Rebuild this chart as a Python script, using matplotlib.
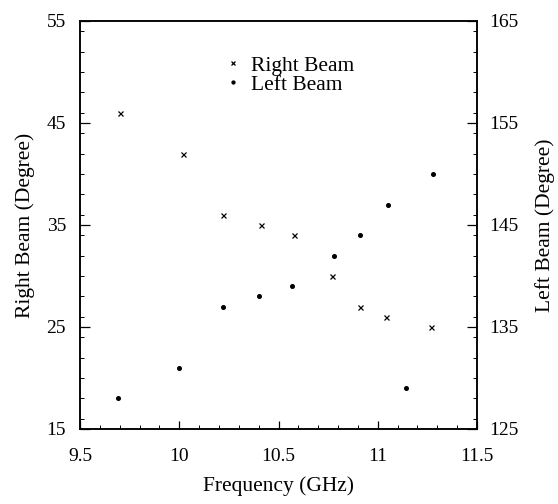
import matplotlib
matplotlib.use("Agg")
import matplotlib.pyplot as plt
from matplotlib.ticker import MultipleLocator

# Data
right_freq = [9.70, 10.02, 10.22, 10.41, 10.58, 10.77, 10.91, 11.04, 11.27]
right_beam = [46, 42, 36, 35, 34, 30, 27, 26, 25]
left_freq = [9.69, 10.00, 10.22, 10.40, 10.57, 10.78, 10.91, 11.05, 11.28, 11.14]
left_beam = [128, 131, 137, 138, 139, 142, 144, 147, 150, 129]

x_ticks = [9.5, 10, 10.5, 11, 11.5]
x_tick_labels = ["9.5", "10", "10.5", "11", "11.5"]
left_ticks = [15, 25, 35, 45, 55]
right_ticks = [125, 135, 145, 155, 165]

plt.rcParams['font.family'] = ['Liberation Serif', 'DejaVu Serif']

fig = plt.figure(figsize=(5.58, 5.04), dpi=100)
ax = fig.add_axes([80/558, 1-429/504, 397/558, 408/504])
ax2 = ax.twinx()

h1, = ax.plot(right_freq, right_beam, linestyle='none', marker='x', markersize=3.6,
              markeredgewidth=0.9, color='black', label='Right Beam')
h2, = ax2.plot(left_freq, left_beam, linestyle='none', marker='o', markersize=2.6,
               color='black', label='Left Beam')

ax.set_xlim(9.5, 11.5)
ax.set_ylim(15, 55)
ax2.set_ylim(125, 165)

ax.set_xticks(x_ticks)
ax.set_xticklabels(x_tick_labels)
ax.set_yticks(left_ticks)
ax2.set_yticks(right_ticks)
ax.xaxis.set_minor_locator(MultipleLocator(0.1))
ax.yaxis.set_minor_locator(MultipleLocator(2))
ax2.yaxis.set_minor_locator(MultipleLocator(2))

for a in (ax, ax2):
    for s in a.spines.values():
        s.set_linewidth(1.1)

ax.tick_params(axis='x', which='both', direction='in', top=False, labelsize=14, pad=14)
ax.tick_params(axis='x', which='major', length=6, width=0.9)
ax.tick_params(axis='x', which='minor', length=3, width=0.7)
ax.tick_params(axis='y', which='both', direction='in', right=False, labelsize=14, pad=10)
ax.tick_params(axis='y', which='major', length=7, width=0.9)
ax.tick_params(axis='y', which='minor', length=3, width=0.7)
ax2.tick_params(axis='y', which='both', direction='in', labelsize=14, pad=9)
ax2.tick_params(axis='y', which='major', length=7, width=0.9)
ax2.tick_params(axis='y', which='minor', length=3, width=0.7)

ax.set_xlabel('Frequency (GHz)', fontsize=15.5, labelpad=8)
ax.set_ylabel('Right Beam (Degree)', fontsize=15.5, labelpad=8)
ax2.set_ylabel('Left Beam (Degree)', fontsize=15.5, labelpad=12)

leg = ax.legend([h1, h2], ['Right Beam', 'Left Beam'], loc='upper left',
                bbox_to_anchor=(0.37, 0.915), frameon=False, fontsize=15.5,
                handlelength=0.6, handletextpad=0.5, borderpad=0, borderaxespad=0,
                labelspacing=-0.05, markerscale=0.8)

fig.savefig('out.png', dpi=100)
